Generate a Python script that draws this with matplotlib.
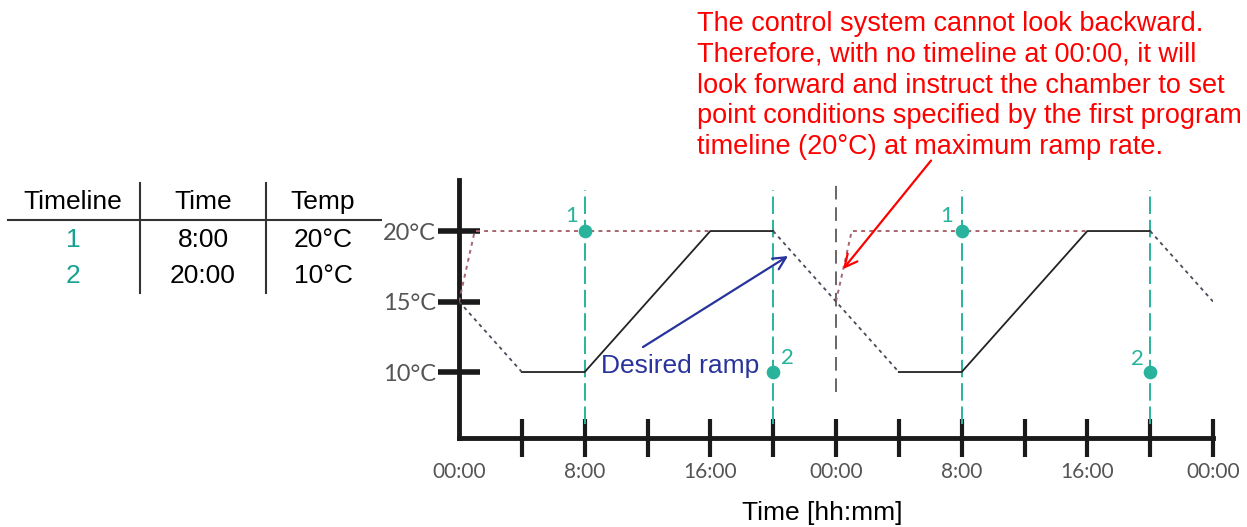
import matplotlib
matplotlib.use("Agg")
import matplotlib.pyplot as plt
from matplotlib.lines import Line2D

# ---------------- data ----------------
actual_hours = [0, 4, 8, 16, 20, 24, 28, 32, 40, 44, 48]
actual_temp = [15, 10, 10, 20, 20, 15, 10, 10, 20, 20, 15]
solid_ranges = [(1, 4), (6, 9)]          # index ranges drawn solid
dotted_ranges = [(0, 1), (4, 6), (9, 10)]  # index ranges drawn dotted

setpoint_day1_hours = [0, 1, 16]
setpoint_day1_temp = [15, 20, 20]
setpoint_day2_hours = [24, 25, 40]
setpoint_day2_temp = [15, 20, 20]

timeline_hours = [8, 20, 32, 44]
timeline_temp = [20, 10, 20, 10]
timeline_labels = ["1", "2", "1", "2"]
timeline_label_offsets = [(-13, 15), (14, 14), (-15, 15), (-13, 13)]

midnight_hour = 24

xtick_hours = list(range(0, 49, 4))
xtick_labels = ["00:00", "", "8:00", "", "16:00", "", "00:00", "", "8:00", "", "16:00", "", "00:00"]
ytick_values = [10, 15, 20]
ytick_labels = ["10°C", "15°C", "20°C"]

table_header = ["Timeline", "Time", "Temp"]
table_rows = [["1", "8:00", "20°C"], ["2", "20:00", "10°C"]]

red_note = ("The control system cannot look backward.\n"
            "Therefore, with no timeline at 00:00, it will\n"
            "look forward and instruct the chamber to set\n"
            "point conditions specified by the first program\n"
            "timeline (20°C) at maximum ramp rate.")

# ---------------- style ----------------
W, H = 1247, 527
TEAL = "#2ab39c"
TEAL_TXT = "#17a193"
PINK = "#a8646e"
GRAYDOT = "#4a4a5a"
TICKGRAY = "#555555"
SANS = ["Liberation Sans", "DejaVu Sans"]
LIGHT = ["Lato", "DejaVu Sans"]

fig = plt.figure(figsize=(W / 100, H / 100), dpi=100)
ax_l, ax_r, ax_t, ax_b = 459, 1213, 180, 438
ax = fig.add_axes([ax_l / W, (H - ax_b) / H, (ax_r - ax_l) / W, (ax_b - ax_t) / H])
YLO, YHI = 5.32, 23.62
ax.set_xlim(0, 48)
ax.set_ylim(YLO, YHI)

for s in ["top", "right"]:
    ax.spines[s].set_visible(False)
for s in ["left", "bottom"]:
    ax.spines[s].set_linewidth(3.5)
    ax.spines[s].set_color("#1a1a1a")

ax.set_xticks(xtick_hours)
ax.set_xticklabels(xtick_labels, fontfamily=LIGHT, fontsize=15, color=TICKGRAY)
ax.set_yticks(ytick_values)
ax.set_yticklabels(ytick_labels, fontfamily=LIGHT, fontsize=17, color=TICKGRAY)
ax.tick_params(axis="x", direction="inout", length=28, width=3, color="#1a1a1a", pad=3)
ax.tick_params(axis="y", direction="inout", length=30, width=4, color="#1a1a1a", pad=1.5)
ax.xaxis.get_major_ticks()[0].tick1line.set_visible(False)

# vertical timeline lines
for h in timeline_hours:
    ax.plot([h, h], [6.31, 22.9], color=TEAL, lw=1.4, ls=(0, (9, 3)), zorder=2, clip_on=False)
ax.plot([midnight_hour, midnight_hour], [8.6, YHI], color="#666666", lw=1.4,
        ls=(0, (7, 4)), zorder=2, clip_on=False)

# setpoint (pink dotted)
ax.plot(setpoint_day1_hours, setpoint_day1_temp, color=PINK, lw=1.4, ls=(0, (2, 2.2)), zorder=3)
ax.plot(setpoint_day2_hours, setpoint_day2_temp, color=PINK, lw=1.4, ls=(0, (2, 2.2)), zorder=3)

# actual profile
for a, b in solid_ranges:
    ax.plot(actual_hours[a:b + 1], actual_temp[a:b + 1], color="#222222", lw=1.3, zorder=4)
for a, b in dotted_ranges:
    ax.plot(actual_hours[a:b + 1], actual_temp[a:b + 1], color=GRAYDOT, lw=1.3,
            ls=(0, (2, 2.2)), zorder=4)

# timeline points
ax.scatter(timeline_hours, timeline_temp, s=78, color=TEAL, zorder=6, clip_on=False)
for h, t, lab, (dx, dy) in zip(timeline_hours, timeline_temp, timeline_labels, timeline_label_offsets):
    ax.annotate(lab, (h, t), xytext=(dx, dy), textcoords="offset pixels", ha="center", va="center",
                color=TEAL, fontsize=16, fontfamily=LIGHT)

# Desired ramp annotation
ax.text(14.07, 10.45, "Desired ramp", color="#28339b", fontsize=19, fontfamily=SANS,
        ha="center", va="center", zorder=7)
ax.annotate("", xy=(20.95, 18.23), xytext=(11.71, 11.77),
            arrowprops=dict(arrowstyle="->,head_length=0.9,head_width=0.45", color="#28339b", lw=1.6,
                            shrinkA=0, shrinkB=0), zorder=7)

# red annotation
fig.text(697 / W, (H - 11) / H, red_note, color="red", fontsize=19.5, fontfamily=SANS,
         ha="left", va="top", linespacing=1.24)
ax.annotate("", xy=(24.45, 17.3), xytext=(30.05, 25.0), annotation_clip=False,
            arrowprops=dict(arrowstyle="->,head_length=0.9,head_width=0.45", color="red", lw=1.6,
                            shrinkA=0, shrinkB=0), zorder=7)

# x label
fig.text(822 / W, (H - 520) / H, "Time [hh:mm]", fontsize=19, fontfamily=SANS,
         ha="center", va="baseline", color="black")

# table
col_x = [73, 203, 323]
head_y = 202
row_y = [240, 276]
for x, t in zip(col_x, table_header):
    fig.text(x / W, (H - head_y) / H, t, fontsize=19, fontfamily=SANS, ha="center", va="center")
for ry, row in zip(row_y, table_rows):
    for i, (x, t) in enumerate(zip(col_x, row)):
        fig.text(x / W, (H - ry) / H, t, fontsize=19, fontfamily=SANS, ha="center", va="center",
                 color=TEAL_TXT if i == 0 else "black")
fig.add_artist(Line2D([8 / W, 381 / W], [(H - 220) / H] * 2, color="#333333", lw=1.5))
for vx in [140, 266]:
    fig.add_artist(Line2D([vx / W] * 2, [(H - 183) / H, (H - 293) / H], color="#333333", lw=1.5))

fig.savefig("out.png", dpi=100)
